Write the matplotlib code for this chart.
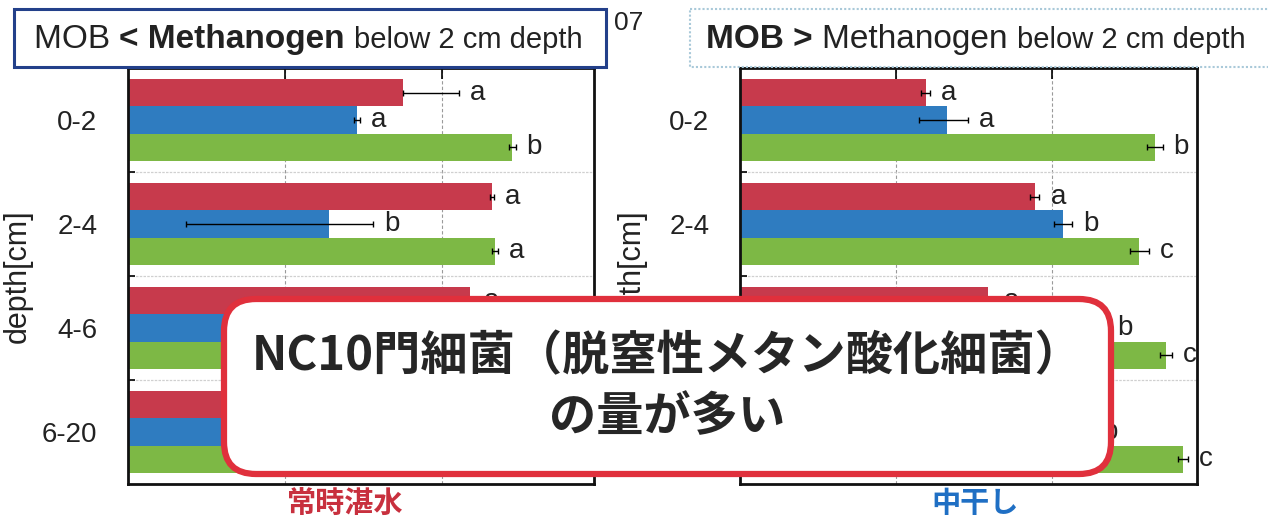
#!/usr/bin/env python3
"""
Depth profile of MOB / methanogen abundance under two water regimes,
with an annotation box about NC10 bacteria.
Saves: out.png
"""

import numpy as np
import matplotlib
matplotlib.use("Agg")
import matplotlib.pyplot as plt
from matplotlib.patches import FancyBboxPatch, Rectangle

plt.rcParams['font.family'] = ['Liberation Sans', 'Noto Sans CJK JP', 'DejaVu Sans']

# --- data ---
DEPTHS = ["0-2", "2-4", "4-6", "6-20"]

# continuous flooding (常時湛水)
flooded_red = [1.75, 2.32, 2.18, 1.90]
flooded_blue = [1.46, 1.28, 1.60, 1.50]
flooded_green = [2.45, 2.34, 2.20, 2.10]
flooded_red_err = [[0.00, 0.01, 0.02, 0.02], [0.36, 0.01, 0.02, 0.02]]
flooded_blue_err = [[0.02, 0.91, 0.03, 0.03], [0.02, 0.28, 0.03, 0.03]]
flooded_green_err = [[0.02, 0.02, 0.02, 0.02], [0.02, 0.02, 0.02, 0.02]]
flooded_letters = [["a", "a", "b"], ["a", "b", "a"], ["a", "a", "a"], ["a", "a", "a"]]

# mid-season drainage (中干し)
drained_red = [1.19, 1.89, 1.59, 1.70]
drained_blue = [1.33, 2.07, 2.30, 2.20]
drained_green = [2.66, 2.56, 2.73, 2.84]
drained_red_err = [[0.03, 0.03, 0.03, 0.03], [0.03, 0.03, 0.03, 0.03]]
drained_blue_err = [[0.18, 0.06, 0.05, 0.05], [0.13, 0.06, 0.05, 0.05]]
drained_green_err = [[0.05, 0.06, 0.04, 0.03], [0.05, 0.06, 0.04, 0.03]]
drained_letters = [["a", "a", "b"], ["a", "b", "c"], ["a", "b", "c"], ["a", "b", "c"]]

COLORS = ["#c73a4c", "#2f7cc0", "#7db845"]

W, H = 1268, 521
fig = plt.figure(figsize=(W / 100, H / 100), dpi=100)
fig.patch.set_facecolor("white")


def px_axes(x0, y0, x1, y1):
    # axes placed by pixel box (top-left origin)
    return fig.add_axes([x0 / W, 1 - y1 / H, (x1 - x0) / W, (y1 - y0) / H])


def draw_panel(ax, series, errs, letters, xmax):
    y = np.arange(len(DEPTHS))
    h = 0.262
    for k, (vals, err) in enumerate(zip(series, errs)):
        pos = y + (k - 1) * h
        ax.barh(pos, vals, height=h, color=COLORS[k], zorder=2)
        ax.errorbar(vals, pos, xerr=err, fmt="none", ecolor="black",
                    elinewidth=1, capsize=2.5, capthick=1, zorder=3)
        for i in range(len(DEPTHS)):
            ax.text(vals[i] + err[1][i] + 0.07, pos[i], letters[i][k],
                    va="center", ha="left", fontsize=20, color="#222222", zorder=4)

    ax.set_xlim(0, xmax)
    ax.set_ylim(len(DEPTHS) - 0.5, -0.5)
    ax.set_yticks(y)
    ax.set_yticklabels(DEPTHS, fontsize=20, color="#222222")
    ax.set_yticks(y[:-1] + 0.5, minor=True)
    ax.tick_params(axis="y", which="major", length=0, pad=22)
    ax.tick_params(axis="y", which="minor", direction="in", length=5, width=1.2)
    ax.set_xticks([1, 2])
    ax.tick_params(axis="x", direction="in", top=True, bottom=False,
                   labelbottom=False, length=8, width=1.2)
    for xv in [1, 2]:
        ax.axvline(xv, color="#9a9a9a", lw=0.8, ls=(0, (3, 2)), zorder=1)
    for yv in [0.5, 1.5, 2.5]:
        ax.axhline(yv, color="#d0d0d0", lw=0.9, ls=(0, (2, 1)), zorder=1)
    for s in ax.spines.values():
        s.set_linewidth(2)
        s.set_color("#111111")
    ax.set_ylabel("depth[cm]", fontsize=22, color="#222222")
    ax.yaxis.set_label_coords(-0.205, 0.5)


ax1 = px_axes(128, 68, 594, 484)
draw_panel(ax1, [flooded_red, flooded_blue, flooded_green],
           [flooded_red_err, flooded_blue_err, flooded_green_err],
           flooded_letters, 2.97)

ax2 = px_axes(740, 68, 1197, 484)
draw_panel(ax2, [drained_red, drained_blue, drained_green],
           [drained_red_err, drained_blue_err, drained_green_err],
           drained_letters, 2.93)

# overlay in pixel coordinates for titles and the callout box
ov = fig.add_axes([0, 0, 1, 1], zorder=10)
ov.set_xlim(0, W)
ov.set_ylim(H, 0)
ov.axis("off")
ov.patch.set_alpha(0)

renderer = fig.canvas.get_renderer()


def run_text(x, y, parts):
    # draw text pieces one after another along a shared baseline
    for txt, size, weight in parts:
        t = ov.text(x, y, txt, fontsize=size, fontweight=weight,
                    va="baseline", ha="left", color="#222222", zorder=12)
        bb = t.get_window_extent(renderer=renderer)
        x += bb.width


ov.add_patch(Rectangle((14, 9), 592, 58, facecolor="white",
                       edgecolor="#23408a", lw=2.2, zorder=11))
run_text(34, 48, [("MOB ", 24, "normal"), ("< Methanogen ", 24, "bold"),
                  ("below 2 cm depth", 21, "normal")])

ov.add_patch(Rectangle((690, 9), 600, 58, facecolor="white",
                       edgecolor="#a9c9d9", lw=1.5, ls=(0, (1, 1)), zorder=11))
run_text(706, 48, [("MOB > ", 24, "bold"), ("Methanogen ", 24, "normal"),
                   ("below 2 cm depth", 21, "normal")])

ov.text(614, 30, "07", fontsize=19, color="#222222", va="baseline", zorder=12)

# callout about NC10 bacteria
ov.add_patch(FancyBboxPatch((224, 299), 887, 175,
                            boxstyle="round,pad=0,rounding_size=32",
                            facecolor="white", edgecolor="#e0303c",
                            lw=4.5, zorder=11))
ov.text(667, 356, "NC10門細菌（脱窒性メタン酸化細菌）", fontsize=34,
        fontweight="bold", ha="center", va="center", color="#262626",
        family=["Noto Sans CJK JP"], zorder=12)
ov.text(667, 417, "の量が多い", fontsize=34, fontweight="bold",
        ha="center", va="center", color="#262626",
        family=["Noto Sans CJK JP"], zorder=12)

# regime labels under each panel
ov.text(345, 503, "常時湛水", fontsize=21, fontweight="bold", ha="center",
        va="center", color="#c8303e", family=["Noto Sans CJK JP"], zorder=12)
ov.text(975, 503, "中干し", fontsize=21, fontweight="bold", ha="center",
        va="center", color="#1f6fc4", family=["Noto Sans CJK JP"], zorder=12)

fig.savefig("out.png", dpi=100, facecolor="white")
